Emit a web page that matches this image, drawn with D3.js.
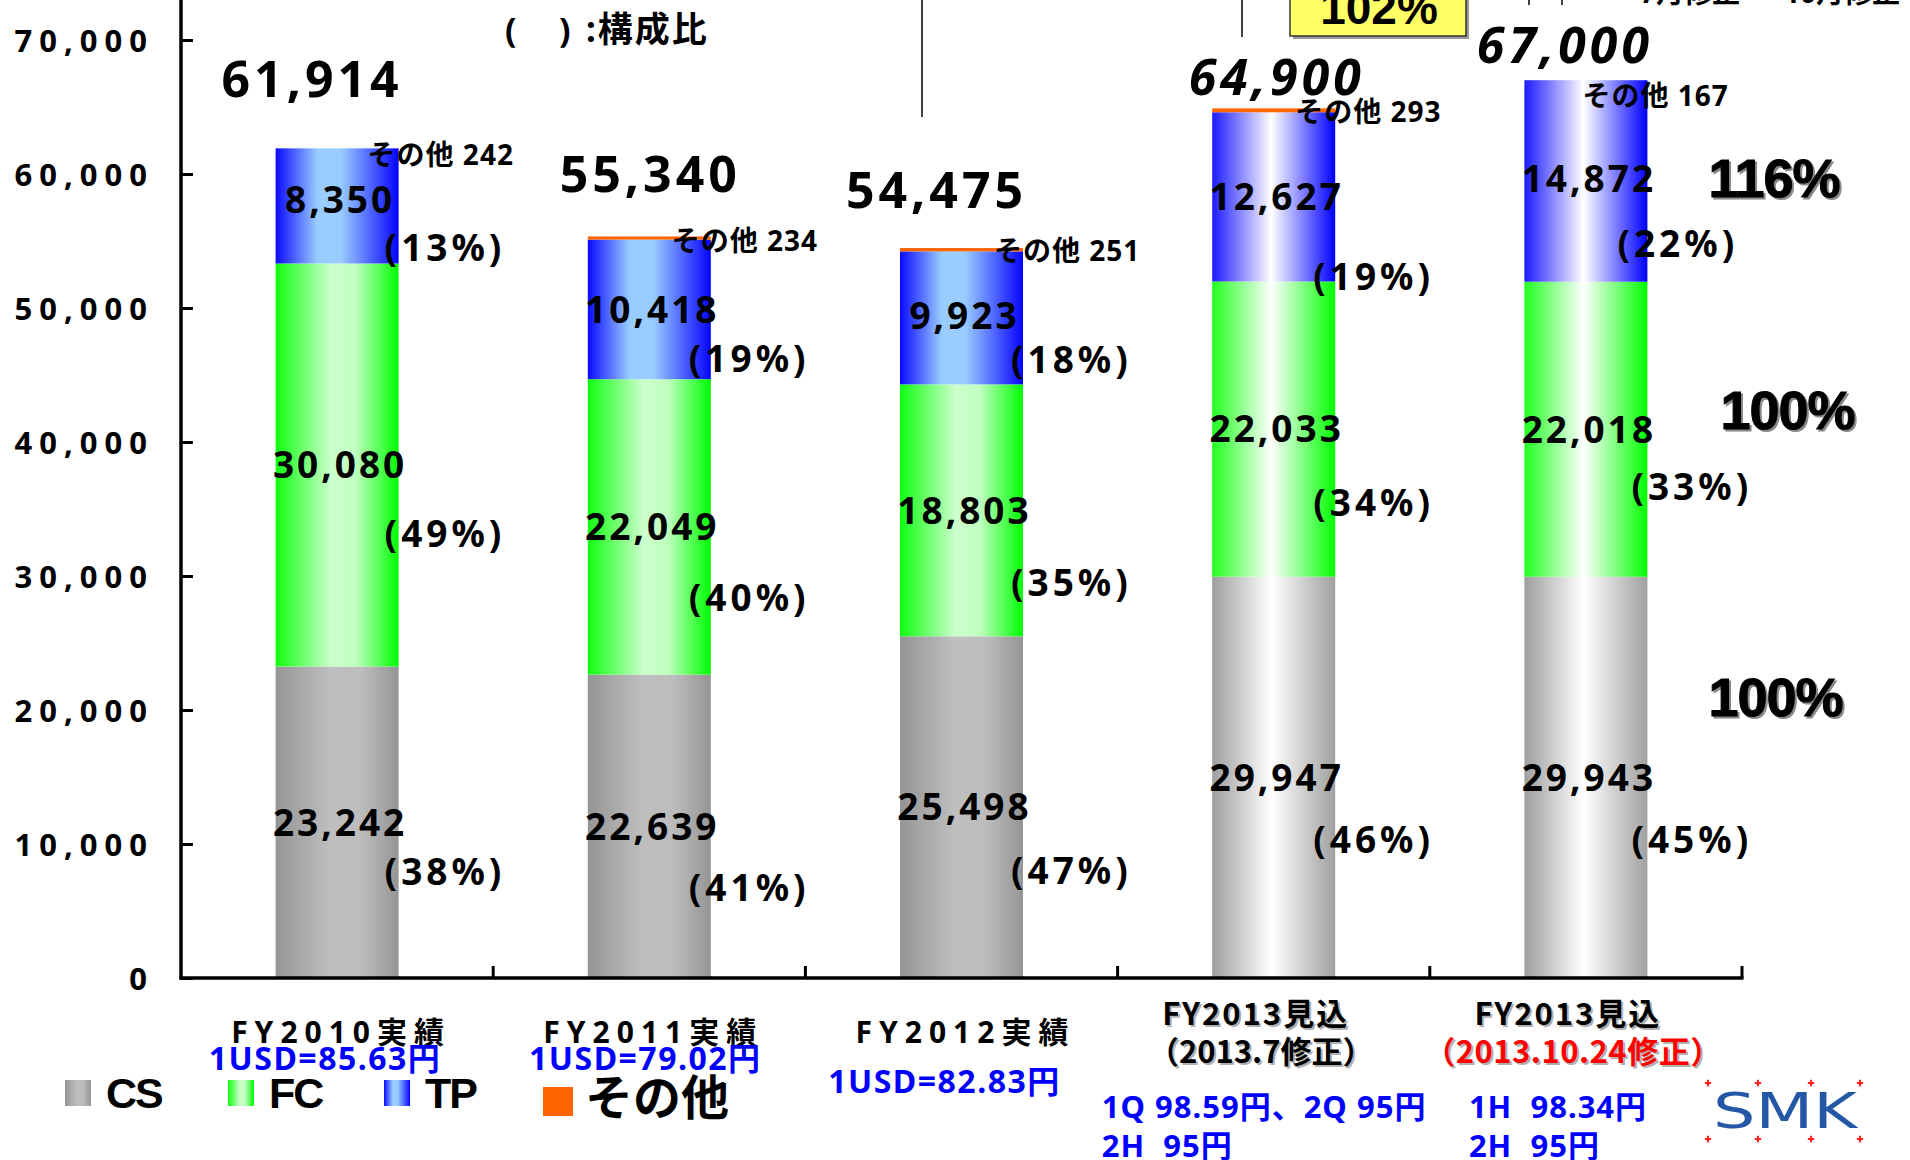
<!DOCTYPE html>
<html>
<head>
<meta charset="utf-8">
<script src="https://cdn.jsdelivr.net/npm/d3@7"></script>
<style>
body { margin: 0; background: #fff; }
text { font-family: "Noto Sans", "Noto Sans CJK JP", sans-serif; font-weight: bold; }
</style>
</head>
<body>
<div id="chart"></div>
<script>
//----------------------------
// Data
//----------------------------
var categories = ["FY2010", "FY2011", "FY2012", "FY2013_7", "FY2013_10"];
var csValues = [23242, 22639, 25498, 29947, 29943];
var fcValues = [30080, 22049, 18803, 22033, 22018];
var tpValues = [8350, 10418, 9923, 12627, 14872];
var otherValues = [242, 234, 251, 293, 167];
var totals = [61914, 55340, 54475, 64900, 67000];
var csShare = [38, 41, 47, 46, 45];
var fcShare = [49, 40, 35, 34, 33];
var tpShare = [13, 19, 18, 19, 22];
var yTicks = [0, 10000, 20000, 30000, 40000, 50000, 60000, 70000];
var catTitles = ["FY2010実績", "FY2011実績", "FY2012実績", "FY2013見込", "FY2013見込"];
var catSubs = ["", "", "", "（2013.7修正）", "（2013.10.24修正）"];
var rateTexts = [["1USD=85.63円"], ["1USD=79.02円"], ["1USD=82.83円"],
                 ["1Q 98.59円、2Q 95円", "2H  95円"], ["1H  98.34円", "2H  95円"]];
var growthLabels = ["116%", "100%", "100%"];   // TP, FC, CS vs 7月修正
var legendNames = ["CS", "FC", "TP"];

//----------------------------
// Layout / styles
//----------------------------
var W = 1910, H = 1160;
var plotLeft = 181, plotRight = 1742, plotBottom = 978, plotTop = 40;
var barStyle = ["a", "a", "a", "f", "f"];        // actual / forecast gradients
var otherShown = [false, true, true, true, false];
var totalItalic = [false, false, false, true, true];
var totalDx = [-27, -1, -27, 1, -23];
var totalDy = [-51, -44, -40, -13, -17];
var otherDx = [-31, -39, -29, -40, -65];
var otherDy = [17, 15, 13, 14, 26];
var tpValueDy = [-8, 0, -2, 0, -3];
var pctDx = [-14, -22, -12, -22, -16];
var tpPctDx = [-14, -22, -12, -22, -30];
var csPctDy = [49, 61, 64, 62, 62];
var fcPctDy = [69, 71, 72, 74, 57];
var tpPctDy = [40, 49, 42, 80, 62];
var rateAnchor = ["middle", "middle", "middle", "start", "start"];
var rateDx = [-12, -4, -17, -172, -117];
var rateY = [1070, 1070, 1093, 1118, 1118];
var growthDx = [61, 73, 61];
var growthDy = [15, 0, -61];

var svg = d3.select("#chart").append("svg")
    .attr("width", W)
    .attr("height", H);

var defs = svg.append("defs");

// gradients: stops per key and style
var gradStops = {
    "cs-a": [[0, "#959595"], [0.45, "#bfbfbf"], [0.7, "#bcbcbc"], [1, "#959595"]],
    "fc-a": [[0, "#10ff10"], [0.45, "#ccffcc"], [0.65, "#c0ffc0"], [1, "#00ff00"]],
    "tp-a": [[0, "#0a0aff"], [0.34, "#99ccff"], [0.53, "#99ccff"], [0.97, "#1010ff"], [1, "#0000ff"]],
    "cs-f": [[0, "#9e9e9e"], [0.48, "#ffffff"], [1, "#a0a0a0"]],
    "fc-f": [[0, "#20ff20"], [0.48, "#ffffff"], [1, "#00ff00"]],
    "tp-f": [[0, "#1a1aff"], [0.48, "#ffffff"], [1, "#0000ff"]]
};
Object.keys(gradStops).forEach(function (id) {
    var g = defs.append("linearGradient").attr("id", "g-" + id)
        .attr("x1", 0).attr("x2", 1).attr("y1", 0).attr("y2", 0);
    gradStops[id].forEach(function (s) {
        g.append("stop").attr("offset", s[0]).attr("stop-color", s[1]);
    });
});

//----------------------------
// Scales
//----------------------------
var x = d3.scaleBand()
    .domain(categories)
    .range([plotLeft, plotRight])
    .paddingInner(0.606)
    .paddingOuter(0.303);

var y = d3.scaleLinear()
    .domain([0, 70000])
    .range([plotBottom, plotTop]);

var table = categories.map(function (c, i) {
    return {cat: c, cs: csValues[i], fc: fcValues[i], tp: tpValues[i], other: otherValues[i]};
});
var series = d3.stack().keys(["cs", "fc", "tp", "other"])(table);

//----------------------------
// Bars
//----------------------------
var bars = svg.append("g");
series.forEach(function (layer) {
    var key = layer.key;
    bars.selectAll(".bar-" + key)
        .data(layer.filter(function (d, i) { return key !== "other" || otherShown[i]; }))
        .enter().append("rect")
        .attr("class", "bar-" + key)
        .attr("x", d => x(d.data.cat))
        .attr("width", x.bandwidth())
        .attr("y", function (d) {
            var i = categories.indexOf(d.data.cat);
            // TP reaches the total when その他 is not drawn separately
            if (key === "tp" && !otherShown[i]) return y(totals[i]);
            return y(d[1]);
        })
        .attr("height", function (d) {
            var i = categories.indexOf(d.data.cat);
            if (key === "tp" && !otherShown[i]) return y(d[0]) - y(totals[i]);
            return y(d[0]) - y(d[1]);
        })
        .attr("fill", function (d) {
            if (key === "other") return "#ff6600";
            var i = categories.indexOf(d.data.cat);
            return "url(#g-" + key + "-" + barStyle[i] + ")";
        });
});

//----------------------------
// Axes
//----------------------------
var yAxis = d3.axisLeft(y)
    .tickValues(yTicks)
    .tickSizeInner(-12)
    .tickSizeOuter(0)
    .tickPadding(27)
    .tickFormat(d3.format(","));

var yg = svg.append("g")
    .attr("transform", "translate(" + plotLeft + ",0)")
    .call(yAxis);
yg.select(".domain").remove();
yg.selectAll(".tick line").attr("stroke", "#000").attr("stroke-width", 3);
yg.selectAll(".tick text")
    .attr("dy", "0.38em")
    .style("font-size", "31px")
    .style("letter-spacing", "7px")
    .attr("fill", "#000");

// y axis line runs to the top of the picture
svg.append("line")
    .attr("x1", plotLeft).attr("x2", plotLeft)
    .attr("y1", 0).attr("y2", y(0) + 1.5)
    .attr("stroke", "#000").attr("stroke-width", 3.5);

// x axis line + category separators
svg.append("line")
    .attr("x1", plotLeft - 1.5).attr("x2", plotRight + 1.5)
    .attr("y1", y(0)).attr("y2", y(0))
    .attr("stroke", "#000").attr("stroke-width", 3.5);

svg.append("g").selectAll("line")
    .data(categories)
    .enter().append("line")
    .attr("x1", (d, i) => plotLeft + (i + 1) * x.step())
    .attr("x2", (d, i) => plotLeft + (i + 1) * x.step())
    .attr("y1", y(0))
    .attr("y2", y(0) - 12)
    .attr("stroke", "#000").attr("stroke-width", 3);

//----------------------------
// Labels on bars
//----------------------------
var fmt = d3.format(",");
var lab = svg.append("g");

categories.forEach(function (c, i) {
    var cx = x(c) + x.bandwidth() / 2;
    var right = x(c) + x.bandwidth();
    var segs = [
        {v: csValues[i], lo: 0, share: csShare[i], dy: csPctDy[i], dx: pctDx[i], vdy: 0},
        {v: fcValues[i], lo: csValues[i], share: fcShare[i], dy: fcPctDy[i], dx: pctDx[i], vdy: 0},
        {v: tpValues[i], lo: csValues[i] + fcValues[i], share: tpShare[i], dy: tpPctDy[i], dx: tpPctDx[i], vdy: tpValueDy[i]}
    ];
    segs.forEach(function (s) {
        var mid = y(s.lo + s.v / 2);
        lab.append("text")
            .attr("x", cx + 3)
            .attr("y", mid + s.vdy)
            .attr("dy", "0.36em")
            .attr("text-anchor", "middle")
            .style("font-size", "37px")
            .style("letter-spacing", "3px")
            .text(fmt(s.v));
        lab.append("text")
            .attr("x", right + s.dx)
            .attr("y", mid + s.dy)
            .attr("dy", "0.36em")
            .style("font-size", "37px")
            .style("letter-spacing", "4px")
            .text("(" + s.share + "%)");
    });

    // その他
    lab.append("text")
        .attr("x", right + otherDx[i])
        .attr("y", y(totals[i]) + otherDy[i])
        .style("font-size", "28px")
        .style("letter-spacing", "1px")
        .text("その他 " + otherValues[i]);

    // total
    lab.append("text")
        .attr("x", cx + totalDx[i] + 2)
        .attr("y", y(totals[i]) + totalDy[i])
        .attr("text-anchor", "middle")
        .style("font-size", "50px")
        .style("font-style", totalItalic[i] ? "italic" : "normal")
        .style("letter-spacing", "4px")
        .text(fmt(totals[i]));

    // category titles
    if (catSubs[i] === "") {
        lab.append("text")
            .attr("x", cx + 4)
            .attr("y", 1043)
            .attr("text-anchor", "middle")
            .style("font-size", "30px")
            .style("letter-spacing", "7px")
            .text(catTitles[i]);
    } else {
        [[catTitles[i], 1025, "#000"], [catSubs[i], 1063, i === 4 ? "#ff0000" : "#000"]].forEach(function (t, k) {
            var tx = cx + (k === 0 ? -18 : -13);
            [["#b0b0b0", 2], [t[2], 0]].forEach(function (s) {
                lab.append("text")
                    .attr("x", tx + s[1]).attr("y", t[1] + s[1])
                    .attr("text-anchor", "middle")
                    .attr("fill", s[0])
                    .style("font-family", "'Noto Sans CJK JP'")
                    .style("font-size", "31px")
                    .style("letter-spacing", k === 0 ? "2px" : (i === 4 ? "0.5px" : "0px"))
                    .text(t[0]);
            });
        });
    }

    // exchange rates
    rateTexts[i].forEach(function (t, k) {
        lab.append("text")
            .attr("x", cx + rateDx[i])
            .attr("y", rateY[i] + k * 39)
            .attr("text-anchor", rateAnchor[i])
            .attr("fill", "#0000ff")
            .style("font-size", i < 3 ? "32px" : "31px")
            .style("white-space", "pre")
            .style("letter-spacing", i < 3 ? "1.5px" : "1px")
            .text(t);
    });
});

//----------------------------
// Growth vs 7月修正 (right side)
//----------------------------
var last = categories.length - 1;
var lastRight = x(categories[last]) + x.bandwidth();
var growthMid = [
    y(csValues[last] + fcValues[last] + tpValues[last] / 2),
    y(csValues[last] + fcValues[last] / 2),
    y(csValues[last] / 2)
];
growthLabels.forEach(function (t, k) {
    [["#888", 2], ["#000", 0]].forEach(function (s) {
        svg.append("text")
            .attr("x", lastRight + growthDx[k] + s[1])
            .attr("y", growthMid[k] + growthDy[k] + s[1])
            .attr("fill", s[0])
            .style("font-family", "'Liberation Sans'")
            .style("font-size", "54px")
            .style("letter-spacing", "-1px")
            .style("stroke", s[0])
            .style("stroke-width", "1px")
            .text(t);
    });
});

//----------------------------
// Top annotations (cut by the frame)
//----------------------------
svg.append("text").attr("x", 505).attr("y", 42).style("font-size", "34px").text("(");
svg.append("text").attr("x", 559).attr("y", 42).style("font-size", "34px").text(")");
svg.append("text").attr("x", 586).attr("y", 42).style("font-size", "35px")
    .style("letter-spacing", "2px").text(":構成比");

svg.append("line").attr("x1", 922).attr("x2", 922).attr("y1", 0).attr("y2", 117)
    .attr("stroke", "#000").attr("stroke-width", 1.5);
svg.append("line").attr("x1", 1242).attr("x2", 1242).attr("y1", 0).attr("y2", 37)
    .attr("stroke", "#000").attr("stroke-width", 1.5);
svg.append("line").attr("x1", 1529).attr("x2", 1529).attr("y1", 0).attr("y2", 5)
    .attr("stroke", "#000").attr("stroke-width", 1.5);
svg.append("line").attr("x1", 1562).attr("x2", 1562).attr("y1", 0).attr("y2", 5)
    .attr("stroke", "#000").attr("stroke-width", 1.5);

svg.append("rect").attr("x", 1293).attr("y", -20).attr("width", 176).attr("height", 59)
    .attr("fill", "#9a9a9a");
svg.append("rect").attr("x", 1290).attr("y", -23).attr("width", 176).attr("height", 59)
    .attr("fill", "#ffff66").attr("stroke", "#333").attr("stroke-width", 1.5);
svg.append("text").attr("x", 1379).attr("y", 24).attr("text-anchor", "middle")
    .style("font-family", "'Liberation Sans'").style("font-size", "46px")
    .text("102%");

svg.append("text").attr("x", 1640).attr("y", 3).style("font-size", "28px").text("7月修正");
svg.append("text").attr("x", 1784).attr("y", 3).style("font-size", "28px").text("10月修正");

//----------------------------
// Legend
//----------------------------
var legX = [65, 228, 384];
legendNames.forEach(function (n, k) {
    svg.append("rect")
        .attr("x", legX[k]).attr("y", 1080)
        .attr("width", 26).attr("height", 26)
        .attr("fill", "url(#g-" + n.toLowerCase() + "-a)");
    svg.append("text")
        .attr("x", legX[k] + 41).attr("y", 1108)
        .style("font-family", "'Liberation Sans'")
        .style("font-size", "43px")
        .style("letter-spacing", "-2px")
        .text(n);
});
svg.append("rect").attr("x", 543).attr("y", 1087).attr("width", 30).attr("height", 29)
    .attr("fill", "#ff6600");
svg.append("text").attr("x", 585).attr("y", 1115)
    .style("font-family", "'Noto Sans CJK JP'")
    .style("font-size", "48px")
    .text("その他");

//----------------------------
// SMK logo
//----------------------------
svg.append("text")
    .attr("x", 1713).attr("y", 1128)
    .attr("textLength", 144).attr("lengthAdjust", "spacingAndGlyphs")
    .attr("fill", "#2457a6")
    .style("font-family", "'DejaVu Sans'")
    .style("font-weight", "normal")
    .style("font-size", "50px")
    .text("SMK");
var dotX = [1708, 1758, 1811, 1860];
[1083, 1139].forEach(function (dy) {
    svg.append("g").selectAll("path")
        .data(dotX)
        .enter().append("path")
        .attr("transform", d => "translate(" + d + "," + dy + ")")
        .attr("d", d3.symbol(d3.symbolCross, 22))
        .attr("fill", "#ff2020");
});
</script>
</body>
</html>
